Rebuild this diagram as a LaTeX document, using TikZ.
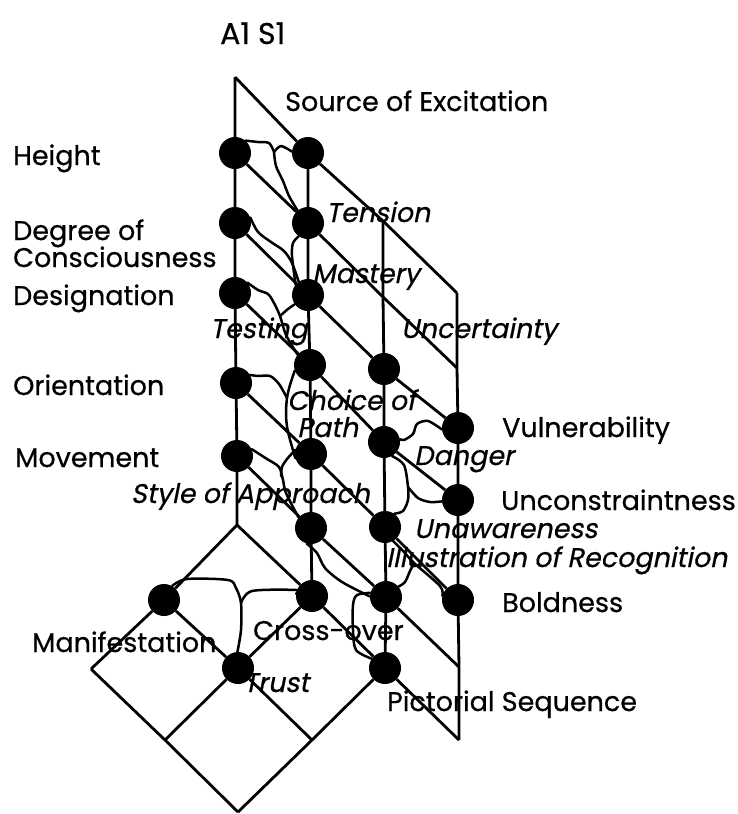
\documentclass[tikz,border=0pt]{standalone}
\usepackage{fontspec}
\setmainfont{Poppins}[AutoFakeSlant=0.2, FakeBold=0.6]
\begin{document}
\begin{tikzpicture}[x=1pt,y=-1pt,
  lat/.style={line width=2.8pt},
  wig/.style={line width=2.5pt, line cap=round, line join=round},
  dot/.style={circle, fill=black, minimum size=32pt, inner sep=0pt},
  lbl/.style={font=\fontsize{27}{27}\selectfont, inner sep=0pt, anchor=base west},
  ilbl/.style={font=\fontsize{27}{27}\selectfont\itshape, inner sep=0pt, anchor=base west}]
\useasboundingbox (0,0) rectangle (738,814);

% lattice vertices
\coordinate (t0) at (235,77);
\coordinate (d1a) at (383,221);
\coordinate (t3) at (457,293);
\coordinate (d2b) at (383,297);
\coordinate (d2c) at (457,368);
\coordinate (v6) at (459,667);
\coordinate (v7) at (459,740);
\coordinate (dtop) at (237,525);
\coordinate (dl) at (91,669);
\coordinate (dbl) at (165,740);
\coordinate (dbr) at (312,740);
\coordinate (dbot) at (238,812);

% nodes
\node[dot] (H)  at (235,153) {};
\node[dot] (D)  at (235,223) {};
\node[dot] (Ds) at (235,293) {};
\node[dot] (O)  at (236,383) {};
\node[dot] (M)  at (237,456) {};
\node[dot] (S)  at (308,153) {};
\node[dot] (T)  at (308,223) {};
\node[dot] (Ma) at (308,295) {};
\node[dot] (CP) at (310,365) {};
\node[dot] (SA) at (311,454) {};
\node[dot] (U2) at (311,528) {};
\node[dot] (CO) at (312,596) {};
\node[dot] (UN) at (384,369) {};
\node[dot] (DA) at (384,442) {};
\node[dot] (UW) at (385,527) {};
\node[dot] (IR) at (386,597) {};
\node[dot] (PS) at (385,668) {};
\node[dot] (VU) at (458,428) {};
\node[dot] (UC) at (458,500) {};
\node[dot] (BO) at (458,600) {};
\node[dot] (MF) at (164,600) {};
\node[dot] (TR) at (238,668) {};

% verticals
\draw[lat] (t0) -- (H) -- (D) -- (Ds) -- (O) -- (M) -- (dtop);
\draw[lat] (S) -- (T) -- (Ma) -- (CP) -- (SA) -- (U2) -- (CO);
\draw[lat] (d1a) -- (d2b) -- (UN) -- (DA) -- (UW) -- (IR) -- (PS);
\draw[lat] (t3) -- (d2c) -- (VU) -- (UC) -- (BO) -- (v6) -- (v7);
% diagonals
\draw[lat] (t0) -- (S) -- (d1a) -- (t3);
\draw[lat] (H) -- (T) -- (d2b) -- (d2c);
\draw[lat] (D) -- (Ma) -- (UN) -- (VU);
\draw[lat] (Ds) -- (CP) -- (DA) -- (UC);
\draw[lat] (O) -- (SA) -- (UW) -- (BO);
\draw[lat] (M) -- (U2) -- (IR) -- (v6);
\draw[lat] (dtop) -- (CO) -- (PS) -- (v7);
% diamond
\draw[lat] (dtop) -- (MF) -- (dl);
\draw[lat] (CO) -- (TR) -- (dbl);
\draw[lat] (PS) -- (dbr) -- (dbot);
\draw[lat] (MF) -- (TR) -- (dbr);
\draw[lat] (dl) -- (dbl) -- (dbot);

% wiggly connectors
\coordinate (j1) at (274,152);
\draw[wig] plot[smooth, tension=0.5] coordinates {(H.50) (258,142) (269,143) (j1)};
\draw[wig] plot[smooth, tension=0.5] coordinates {(j1) (281,146) (S.175)};
\draw[wig] plot[smooth, tension=0.5] coordinates {(j1) (276,166) (283,181) (289,196) (T.130)};
\draw[wig] plot[smooth, tension=0.5] coordinates {(D.20) (258,232) (271,242) (284,251) (292,263) (Ma.125)};
\draw[wig] plot[smooth, tension=0.5] coordinates {(T.235) (293,243) (292,256) (Ma.140)};
\coordinate (j2) at (280,316);
\draw[wig] plot[smooth, tension=0.5] coordinates {(Ds.40) (258,290) (268,294) (274,303) (j2) (286,335) (CP.140)};
\draw[wig] plot[smooth, tension=0.5] coordinates {(Ma.215) (288,309) (j2)};
\coordinate (j3) at (287,398);
\draw[wig] plot[smooth, tension=0.5] coordinates {(CP.200) (290,385) (j3) (286,415) (288,432) (SA.195)};
\draw[wig] plot[smooth, tension=0.5] coordinates {(O.30) (258,376) (270,376) (279,384) (j3)};
\draw[wig] plot[smooth, tension=0.5] coordinates {(M.25) (267,459) (279,467) (283,480) (286,493) (U2.140)};
\draw[wig] plot[smooth, tension=0.5] coordinates {(SA.165) (287,459) (282,467) (281,476)};
\draw[wig] plot[smooth, tension=0.5] coordinates {(U2.255) (317,553) (325,568) (342,582) (IR.178)};
\draw[wig] plot[smooth, tension=0.5] coordinates {(IR.165) (357,595) (353,605) (353,630) (356,650) (PS.145)};
\coordinate (j4) at (414,563);
\draw[wig] plot[smooth, tension=0.5] coordinates {(UW.300) (404,552) (j4) (440,586) (BO.165)};
\draw[wig] plot[smooth, tension=0.5] coordinates {(IR.40) (405,582) (410,571) (j4)};
\draw[wig] plot[smooth, tension=0.5] coordinates {(DA.10) (404,440) (413,434) (417,424) (428,421) (VU.185)};
\coordinate (j5) at (408,487);
\draw[wig] plot[smooth, tension=0.5] coordinates {(DA.300) (404,465) (j5) (408,500) (403,511) (UW.55)};
\draw[wig] plot[smooth, tension=0.5] coordinates {(j5) (418,498) (430,502) (UC.185)};
\coordinate (j6) at (241,603);
\draw[wig] plot[smooth, tension=0.5] coordinates {(MF.60) (187,579) (228,580) (236,588) (j6) (241,630) (TR.92)};
\draw[wig] plot[smooth, tension=0.5] coordinates {(j6) (252,591) (296,590) (CO.172)};

% labels
\node[lbl, font=\fontsize{30}{30}\selectfont] (lA) at (220,44) {A1 S1};
\node[lbl] (lS) at (285,111) {Source of Excitation};
\node[lbl] (lH) at (13,165) {Height};
\node[lbl] (lD1) at (13,240) {Degree of};
\node[lbl] (lD2) at (13,267) {Consciousness};
\node[lbl] (lDs) at (13,305) {Designation};
\node[lbl] (lO) at (13,395) {Orientation};
\node[lbl] (lM) at (15,467) {Movement};
\node[ilbl] (lT) at (326,222) {Tension};
\node[ilbl] (lMa) at (312,283) {Mastery};
\node[ilbl] (lTe) at (210,338) {Testing};
\node[ilbl] (lUn) at (401,338) {Uncertainty};
\node[ilbl] (lC1) at (287,410) {Choice of};
\node[ilbl] (lC2) at (297,437) {Path};
\node[ilbl] (lDa) at (414,465) {Danger};
\node[ilbl, anchor=base east] (lSA) at (370,503) {Style of Approach};
\node[ilbl] (lUw) at (414,538) {Unawareness};
\node[ilbl] (lIR) at (386,567) {Illustration of Recognition};
\node[lbl] (lVu) at (502,437) {Vulnerability};
\node[lbl] (lUc) at (501,510) {Unconstraintness};
\node[lbl] (lBo) at (502,612) {Boldness};
\node[lbl] (lCo) at (253,640) {Cross-over};
\node[ilbl] (lTr) at (243,692) {Trust};
\node[lbl] (lPs) at (387,711) {Pictorial Sequence};
\node[lbl] (lMf) at (32,652) {Manifestation};
\end{tikzpicture}
\end{document}
